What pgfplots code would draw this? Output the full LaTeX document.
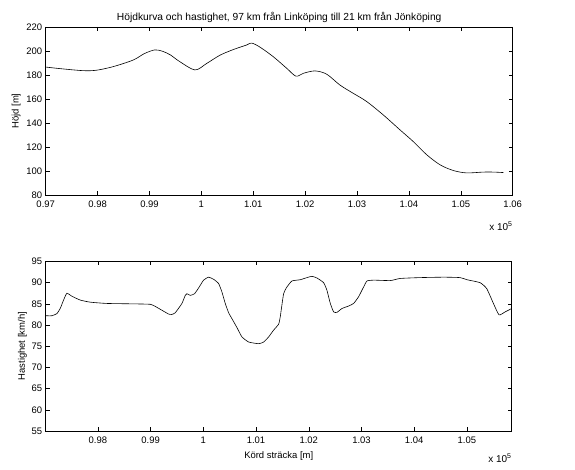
\documentclass[border=0pt]{standalone}
\usepackage{pgfplots}
\pgfplotsset{compat=1.18}
\usepackage{fontspec}
\setmainfont{Liberation Sans}

\pgfplotstableread{
x h
97000 186.6
97300 185.2
97726 183.6
97983 184.0
98304 187.0
98689 192.5
98900 197.8
99100 200.9
99250 199.8
99400 196.8
99588 191.0
99877 184.2
100102 189.6
100359 196.5
100616 201.2
100873 205.0
100969 206.6
101130 203.2
101387 195.2
101644 185.6
101823 179.0
101965 181.4
102189 183.4
102414 180.7
102671 171.6
102928 164.7
103185 157.9
103506 146.7
103827 134.3
104084 124.5
104341 113.6
104598 105.2
104855 100.4
105112 98.4
105433 99.1
105626 99.1
105818 98.7
}\hojd

\pgfplotstableread{
x v
97013 82.2
97127 82.2
97222 82.7
97285 83.9
97349 85.9
97412 87.5
97507 86.8
97665 85.9
97855 85.4
98171 85.1
98677 85.0
98993 84.9
99088 84.4
99214 83.5
99341 82.6
99400 82.5
99467 82.9
99594 85.1
99657 87.0
99689 87.4
99752 87.0
99834 87.4
99923 89.0
100005 90.6
100100 91.3
100195 90.8
100290 89.8
100353 87.8
100416 85.1
100480 82.9
100543 81.5
100638 79.4
100733 77.2
100860 76.0
101049 75.6
101144 76.0
101239 77.2
101333 78.8
101428 80.2
101460 82.0
101523 87.4
101587 89.0
101681 90.4
101839 90.7
101966 91.2
102061 91.5
102156 91.1
102282 90.0
102345 88.2
102409 85.1
102472 83.1
102535 83.0
102630 83.9
102757 84.5
102851 85.1
102946 86.7
103041 89.0
103104 90.4
103231 90.6
103547 90.5
103737 91.0
104117 91.2
104560 91.3
104870 91.2
105000 90.7
105250 90.0
105376 88.6
105503 85.1
105610 82.4
105724 83.1
105850 83.9
}\fart

\begin{document}
\begin{tikzpicture}[x=1bp,y=1bp]
\path[use as bounding box] (0,0) rectangle (575,470);
\pgfplotsset{
  every axis/.append style={
    scale only axis,
    axis line style={line width=0.8pt},
    tick align=inside,
    major tick length=4bp,
    tick style={line width=0.5pt,black},
    font=\fontsize{9.5}{11}\selectfont,
    /pgf/number format/assume math mode=true,
    every axis label/.append style={font=\fontsize{9.5}{11}\selectfont},
    scaled x ticks=false,
    xtick={97000,98000,99000,100000,101000,102000,103000,104000,105000,106000},
    xticklabels={0.97,0.98,0.99,1,1.01,1.02,1.03,1.04,1.05,1.06},
    xticklabel style={yshift=-2.5bp},
  },
}
\begin{axis}[
  name=top,
  at={(45.7bp,275bp)}, anchor=south west,
  width=467bp, height=168bp,
  xmin=97000, xmax=106000,
  ymin=80, ymax=220,
  ytick={80,100,...,220},
  ylabel={Höjd [m]},
  ylabel style={yshift=-1bp},
  title={Höjdkurva och hastighet, 97 km från Linköping till 21 km från Jönköping},
  title style={font=\fontsize{10.3}{12}\selectfont, yshift=-5bp},
]
\addplot[black, line width=0.6pt, smooth, tension=0.5] table[x=x, y=h] {\hojd};
\end{axis}
\node[anchor=north east, inner sep=0pt] at ([yshift=-27bp]top.south east) {x 10\textsuperscript{5}};
\begin{axis}[
  name=bot,
  at={(45.7bp,39bp)}, anchor=south west,
  width=466bp, height=169.5bp,
  xmin=97010, xmax=105850,
  ymin=55, ymax=95,
  ytick={55,60,...,95},
  ylabel={Hastighet [km/h]},
  ylabel style={yshift=-2bp},
  xlabel={Körd sträcka [m]},
  xlabel style={yshift=-1bp},
]
\addplot[black, line width=0.6pt, smooth, tension=0.3] table[x=x, y=v] {\fart};
\end{axis}
\node[anchor=north east, inner sep=0pt] at ([yshift=-23bp]bot.south east) {x 10\textsuperscript{5}};
\end{tikzpicture}
\end{document}
